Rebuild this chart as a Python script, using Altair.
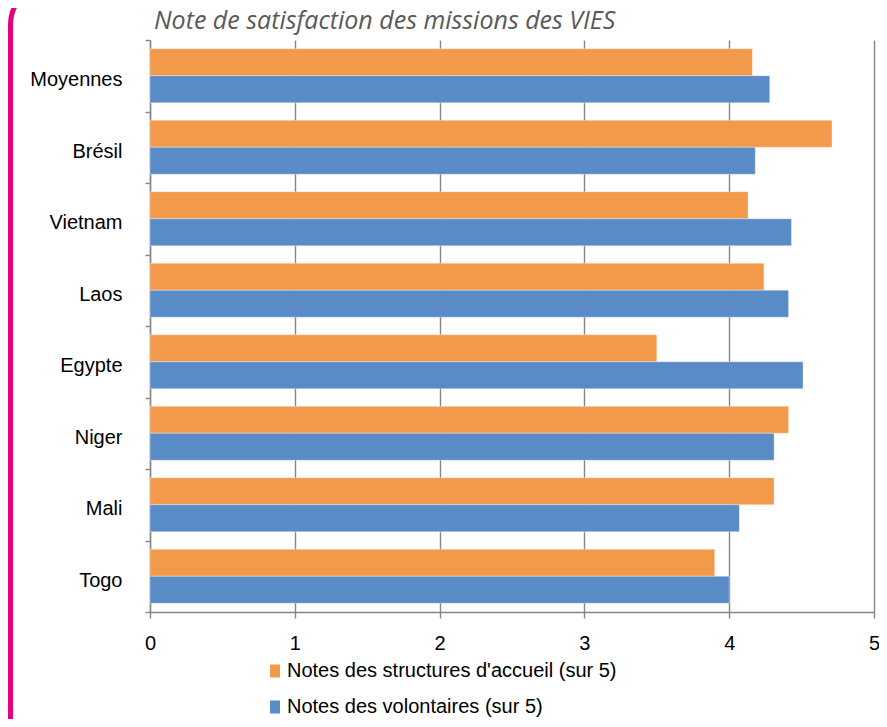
import altair as alt
import pandas as pd

categories = ["Moyennes", "Brésil", "Vietnam", "Laos", "Egypte", "Niger", "Mali", "Togo"]
series = ["Notes des structures d'accueil (sur 5)", "Notes des volontaires (sur 5)"]
structures = [4.16, 4.71, 4.13, 4.24, 3.50, 4.41, 4.31, 3.90]
volontaires = [4.28, 4.18, 4.43, 4.41, 4.51, 4.31, 4.07, 4.00]
x_ticks = [0, 1, 2, 3, 4, 5]
title_text = "Note de satisfaction des missions des VIES"

ORANGE = "#F2994A"
BLUE = "#598BC6"
GRID = "#868686"
PINK = "#E6007E"
FONT = "Liberation Sans"

rows = []
for c, s, v in zip(categories, structures, volontaires):
    rows.append({"categorie": c, "serie": series[0], "note": s})
    rows.append({"categorie": c, "serie": series[1], "note": v})
df = pd.DataFrame(rows)

bars = alt.Chart(df).mark_bar(stroke="white", strokeWidth=0.6, strokeOpacity=0.6).encode(
    x=alt.X(
        "note:Q",
        scale=alt.Scale(domain=[0, 5], nice=False, zero=True),
        axis=alt.Axis(
            values=x_ticks, format="d", title=None, grid=True, gridColor=GRID, gridWidth=1.4,
            domainColor=GRID, domainWidth=1.4, tickColor=GRID, tickWidth=1.4, tickSize=6,
            labelFont=FONT, labelFontSize=20, labelColor="black", labelPadding=15,
            labelFlush=False,
        ),
    ),
    y=alt.Y(
        "categorie:N",
        sort=categories,
        scale=alt.Scale(paddingInner=0, paddingOuter=0),
        axis=alt.Axis(
            title=None, tickBand="extent", domainColor=GRID, domainWidth=1.4,
            tickColor=GRID, tickWidth=1.4, tickSize=5,
            labelFont=FONT, labelFontSize=20, labelColor="black", labelPadding=23,
            labelOffset=4,
        ),
    ),
    yOffset=alt.YOffset("serie:N", sort=series, scale=alt.Scale(paddingInner=0, paddingOuter=0.324)),
    color=alt.Color(
        "serie:N",
        scale=alt.Scale(domain=series, range=[ORANGE, BLUE]),
        legend=alt.Legend(
            title=None, orient="none", legendX=115, legendY=621, direction="vertical",
            symbolType="M-0.77,-1L0.77,-1L0.77,1L-0.77,1Z", symbolSize=169,
            symbolStrokeWidth=0, symbolOpacity=1, labelFont=FONT, labelFontSize=20,
            labelColor="black", labelOffset=2, rowPadding=16, padding=0, labelLimit=600,
        ),
    ),
)

border = alt.Chart(pd.DataFrame({"k": [0]})).mark_rect(
    fillOpacity=0, stroke=PINK, strokeWidth=5, cornerRadius=41, clip=False
).encode(
    x=alt.value(-139.5), x2=alt.value(2000), y=alt.value(-56), y2=alt.value(2000)
)

title = alt.Chart(pd.DataFrame({"t": [title_text]})).mark_text(
    font="Open Sans", fontSize=25, fontStyle="italic", color="#595959",
    align="left", baseline="alphabetic", clip=False,
).encode(text="t:N", x=alt.value(4), y=alt.value(-11))

chart = alt.layer(border, bars, title).properties(
    width=724,
    height=572,
    autosize=alt.AutoSizeParams(type="none"),
    padding={"left": 142, "top": 32, "right": 5, "bottom": 107},
).configure_view(stroke=None)

chart.save("out.html", embed_options={"renderer": "svg", "actions": False})
